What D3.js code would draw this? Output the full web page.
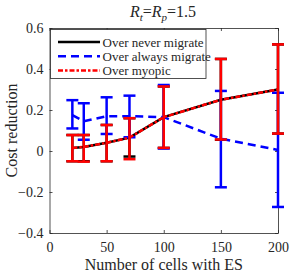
<!DOCTYPE html>
<html>
<head>
<meta charset="utf-8">
<script src="https://cdn.jsdelivr.net/npm/d3@7"></script>
<style>
  body { margin: 0; background: #fff; }
  text { font-family: "Liberation Serif", "DejaVu Serif", serif; fill: #262626; }
</style>
</head>
<body>
<div id="chart"></div>
<script>
// cells with ES
const cells = [20, 30, 50, 70, 100, 150, 200];

// over never migrate (black)
const neverMean = [0.015, 0.02, 0.04, 0.065, 0.165, 0.25, 0.30];
const neverLow = [-0.05, -0.05, -0.05, -0.027, 0.015, 0.055, 0.085];
const neverHigh = [0.078, 0.078, 0.127, 0.16, 0.315, 0.449, 0.52];

// over always migrate (blue)
const alwaysMean = [0.175, 0.145, 0.17, 0.17, 0.165, 0.06, 0.005];
const alwaysLow = [0.11, 0.055, 0.083, 0.067, 0.012, -0.177, -0.273];
const alwaysHigh = [0.248, 0.233, 0.262, 0.27, 0.322, 0.293, 0.284];

// over myopic (red)
const myopicMean = [0.015, 0.02, 0.04, 0.065, 0.165, 0.25, 0.30];
const myopicLow = [-0.05, -0.052, -0.05, -0.04, 0.015, 0.056, 0.085];
const myopicHigh = [0.078, 0.078, 0.127, 0.16, 0.315, 0.449, 0.52];

const xTicks = [0, 50, 100, 150, 200];
const yTicks = [-0.4, -0.2, 0, 0.2, 0.4, 0.6];

const width = 291;
const height = 274;
const margin = { left: 49.5, right: 13, top: 28, bottom: 41 };

const svg = d3
  .select("#chart")
  .append("svg")
  .attr("width", width)
  .attr("height", height);

const x = d3.scaleLinear().domain([0, 200]).range([margin.left, width - margin.right]);
const y = d3.scaleLinear().domain([-0.4, 0.6]).range([height - margin.bottom, margin.top]);

const axisColor = "#262626";

// axes with inward ticks, boxed
const xAxis = svg
  .append("g")
  .attr("transform", `translate(0,${y(-0.4)})`)
  .call(d3.axisBottom(x).tickValues(xTicks).tickSizeInner(-3).tickSizeOuter(0).tickPadding(9));
const xAxisTop = svg
  .append("g")
  .attr("transform", `translate(0,${y(0.6)})`)
  .call(d3.axisTop(x).tickValues(xTicks).tickSizeInner(-3).tickSizeOuter(0).tickFormat(""));
const yAxis = svg
  .append("g")
  .attr("transform", `translate(${x(0)},0)`)
  .call(d3.axisLeft(y).tickValues(yTicks).tickSizeInner(-3).tickSizeOuter(0).tickPadding(6)
    .tickFormat(d => (d === 0 ? "0" : d3.format(".1f")(d))));
const yAxisRight = svg
  .append("g")
  .attr("transform", `translate(${x(200)},0)`)
  .call(d3.axisRight(y).tickValues(yTicks).tickSizeInner(-3).tickSizeOuter(0).tickFormat(""));

[xAxis, xAxisTop, yAxis, yAxisRight].forEach(g => {
  g.select(".domain").attr("stroke", axisColor).attr("stroke-width", 0.8);
  g.selectAll(".tick line").attr("stroke", axisColor).attr("stroke-width", 0.8);
  g.selectAll(".tick text")
    .attr("font-family", "Liberation Serif")
    .attr("font-size", 14)
    .attr("fill", axisColor);
});

const series = [
  { mean: neverMean, low: neverLow, high: neverHigh, color: "#000000", dash: null },
  { mean: alwaysMean, low: alwaysLow, high: alwaysHigh, color: "#0000ff", dash: "8,5" },
  { mean: myopicMean, low: myopicLow, high: myopicHigh, color: "#ff0000", dash: "5,2,2.5,2" }
];

const line = d3
  .line()
  .x(d => x(d.c))
  .y(d => y(d.m));

const capHalf = 6;

series.forEach(s => {
  const pts = cells.map((c, i) => ({ c: c, m: s.mean[i], lo: s.low[i], hi: s.high[i] }));
  const g = svg.append("g");

  g.append("path")
    .datum(pts)
    .attr("d", line)
    .attr("fill", "none")
    .attr("stroke", s.color)
    .attr("stroke-width", 2.5)
    .attr("stroke-dasharray", s.dash);

  const bars = g.selectAll(".bar").data(pts).enter().append("g");
  bars
    .append("line")
    .attr("x1", d => x(d.c))
    .attr("x2", d => x(d.c))
    .attr("y1", d => y(d.lo))
    .attr("y2", d => y(d.hi))
    .attr("stroke", s.color)
    .attr("stroke-width", 2.5);
  ["lo", "hi"].forEach(k => {
    bars
      .append("line")
      .attr("x1", d => x(d.c) - capHalf)
      .attr("x2", d => x(d.c) + capHalf)
      .attr("y1", d => y(d[k]))
      .attr("y2", d => y(d[k]))
      .attr("stroke", s.color)
      .attr("stroke-width", 2.5);
  });
});

// legend
const legendNames = ["Over never migrate", "Over always migrate", "Over myopic"];
const legend = svg.append("g");
legend
  .append("rect")
  .attr("x", 50.5)
  .attr("y", 29.5)
  .attr("width", 155.5)
  .attr("height", 49)
  .attr("fill", "#fff")
  .attr("stroke", axisColor)
  .attr("stroke-width", 0.8);
legendNames.forEach((name, i) => {
  const ly = 42 + i * 14.2;
  legend
    .append("line")
    .attr("x1", 58)
    .attr("x2", 100)
    .attr("y1", ly)
    .attr("y2", ly)
    .attr("stroke", series[i].color)
    .attr("stroke-width", 2.5)
    .attr("stroke-dasharray", series[i].dash);
  legend
    .append("text")
    .attr("x", 102.5)
    .attr("y", ly + 4.5)
    .attr("font-size", 13)
    .text(name);
});

// title
const title = svg
  .append("text")
  .attr("x", 163)
  .attr("y", 17)
  .attr("text-anchor", "middle")
  .attr("font-size", 16);
title.append("tspan").attr("font-style", "italic").text("R");
title.append("tspan").attr("font-style", "italic").attr("font-size", 11).attr("dy", 4).text("t");
title.append("tspan").attr("dy", -4).text("=");
title.append("tspan").attr("font-style", "italic").text("R");
title.append("tspan").attr("font-style", "italic").attr("font-size", 11).attr("dy", 4).text("p");
title.append("tspan").attr("dy", -4).text("=1.5");

// axis labels
svg
  .append("text")
  .attr("x", x(100))
  .attr("y", 270)
  .attr("text-anchor", "middle")
  .attr("font-size", 16)
  .text("Number of cells with ES");

svg
  .append("text")
  .attr("transform", `translate(17,${y(0.1)}) rotate(-90)`)
  .attr("text-anchor", "middle")
  .attr("font-size", 16)
  .text("Cost reduction");
</script>
</body>
</html>
